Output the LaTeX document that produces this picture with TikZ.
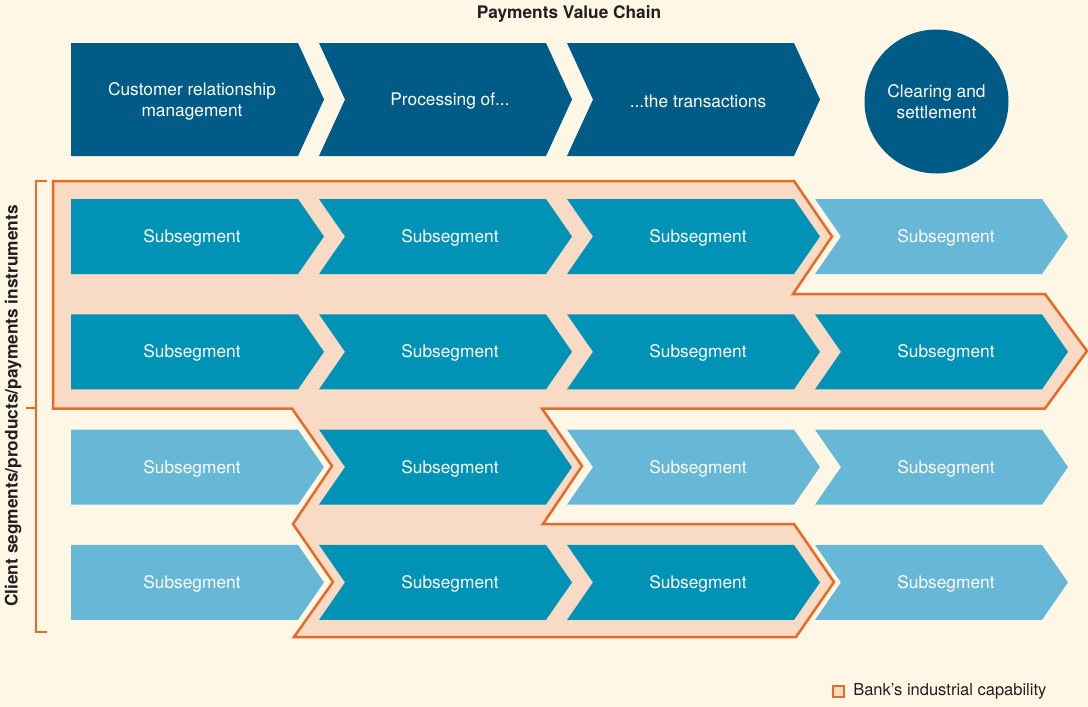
\documentclass[tikz,border=0pt]{standalone}
\usepackage{fontspec}
\setmainfont{TeX Gyre Heros}
\usetikzlibrary{positioning}

\definecolor{cream}{HTML}{FEF7E6}
\definecolor{chainblue}{HTML}{005C86}
\definecolor{segdark}{HTML}{0093B6}
\definecolor{seglight}{HTML}{66B8D6}
\definecolor{peach}{HTML}{F9DAC5}
\definecolor{capborder}{HTML}{E86A27}
\definecolor{inktext}{HTML}{231F20}

\tikzstyle{segtext} = [text=white, align=center, inner sep=0pt, yshift=-1.5pt,
font=\fontsize{17.3}{21}\selectfont]
\tikzstyle{plaintext} = [text=inktext, font=\fontsize{17.3}{20}\selectfont]
\tikzstyle{capability} = [fill=peach, draw=capborder, line width=2.5pt]

% chevron: column, top, bottom, colour, name, text
\newcommand{\chevron}[6]{%
  \pgfmathsetmacro{\chL}{71+248*#1}%
  \pgfmathsetmacro{\chR}{\chL+227}%
  \pgfmathsetmacro{\chT}{\chL+253}%
  \pgfmathsetmacro{\chM}{(#2+#3)/2}%
  \ifnum#1=0
    \fill[#4] (\chL,#2) -- (\chR,#2) -- (\chT,\chM) -- (\chR,#3) -- (\chL,#3) -- cycle;
    \node[segtext] (#5) at (\chL+121,\chM) {#6};
  \else
    \fill[#4] (\chL,#2) -- (\chR,#2) -- (\chT,\chM) -- (\chR,#3) -- (\chL,#3) -- (\chL+26,\chM) -- cycle;
    \node[segtext] (#5) at (\chL+131,\chM) {#6};
  \fi}

\begin{document}
\begin{tikzpicture}[x=1pt, y=-1pt]
    \fill[cream] (0,0) rectangle (1088,707);
    \useasboundingbox (0,0) rectangle (1088,707);

    \node[plaintext] (title) at (569,14) {\bfseries Payments Value Chain};

    % value chain
    \chevron{0}{43}{156}{chainblue}{crm}{Customer relationship\\management}
    \chevron{1}{43}{156}{chainblue}{processing}{Processing of...}
    \chevron{2}{43}{156}{chainblue}{transactions}{...the transactions}
    \node[segtext, circle, fill=chainblue, minimum size=144pt] (clearing) at (936.5,100) {Clearing and\\settlement};

    % bank's capability
    \draw[capability] (53,181) -- (794,181) -- (832,236.5) -- (793,294) -- (1045,294)
        -- (1087,351) -- (1045,408.5) -- (542,408.5) -- (582,466) -- (543,524)
        -- (794,524) -- (834,582) -- (796,637) -- (294,637) -- (333,582)
        -- (293,524) -- (332,466) -- (292,408.5) -- (53,408.5) -- cycle;

    % subsegments
    \foreach \row/\shades in {0/{segdark,segdark,segdark,seglight},
                              1/{segdark,segdark,segdark,segdark},
                              2/{seglight,segdark,seglight,seglight},
                              3/{seglight,segdark,segdark,seglight}} {
        \pgfmathsetmacro{\rowtop}{199+115.3*\row}
        \pgfmathsetmacro{\rowbot}{\rowtop+75}
        \foreach \shade [count=\col from 0] in \shades {
            \chevron{\col}{\rowtop}{\rowbot}{\shade}{seg-\row-\col}{Subsegment}
        }
    }

    % client axis
    \draw[capborder, line width=1.5pt] (47,181) -- (36,181) -- (36,632) -- (47,632);
    \draw[capborder, line width=1.5pt] (26,408) -- (36,408);
    \node[plaintext, rotate=90] (clients) at (13,406) {\bfseries Client segments/products/payments instruments};

    % legend
    \node[draw=capborder, fill=peach, line width=1.5pt, minimum size=11pt, inner sep=0pt] (key) at (838.5,691.5) {};
    \node[plaintext, font=\fontsize{16.5}{20}\selectfont, right=5pt of key] (keytext) {Bank’s industrial capability};
\end{tikzpicture}
\end{document}
